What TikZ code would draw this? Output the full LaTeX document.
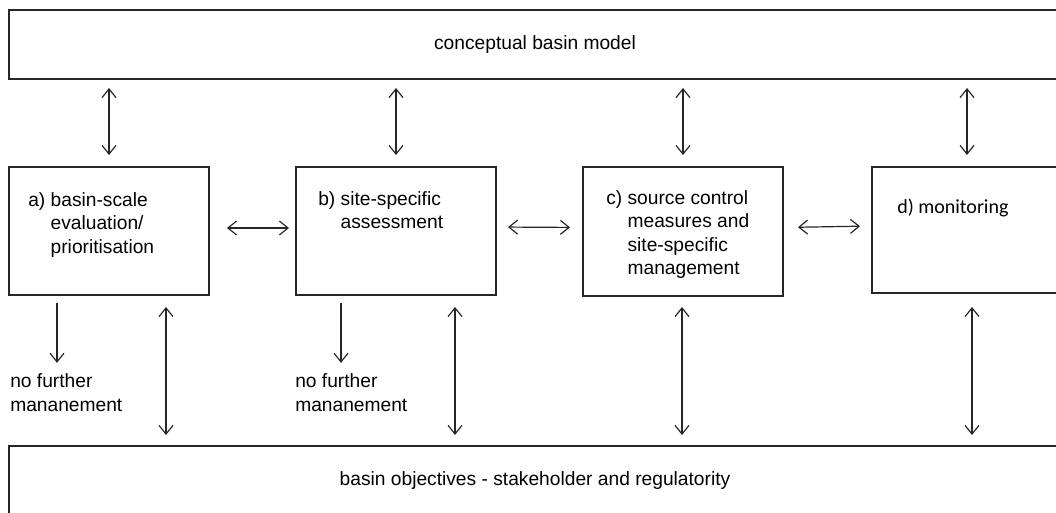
\documentclass[tikz,border=0pt]{standalone}
\usepackage{fontspec}
\setmainfont{Liberation Sans}
\newfontfamily\calibrifont{Carlito}
\usetikzlibrary{arrows.meta,positioning}

\begin{document}
\begin{tikzpicture}[x=0.75pt,y=-0.75pt,
		box/.style={draw=black!85,line width=1pt,inner sep=0pt,outer sep=0pt,anchor=north west,
			minimum width=150pt,minimum height=96pt},
		band/.style={draw=black!85,line width=1pt,inner sep=0pt,outer sep=0pt,anchor=north west,
			minimum width=789pt},
		txt/.style={inner sep=0pt,anchor=base west,align=left},
		tip/.tip={Straight Barb[length=6.5pt,width=10.5pt]},
		link/.style={draw=black!85,line width=0.9pt,tip-tip},
		drop/.style={draw=black!85,line width=0.9pt,-tip},
		font=\fontsize{14.4}{17.6}\selectfont]
	\useasboundingbox (0,0) rectangle (1056,513);
	\node[band,minimum height=51.75pt] (model) at (9,10) {conceptual basin model};
	\node[band,minimum height=52.5pt] (goals) at (9,446) {basin objectives - stakeholder and regulatority};
	\node[box] (boxa) at (9,167) {};
	\node[box] (boxb) at (296,167) {};
	\node[box,minimum height=96.75pt] (boxc) at (583,167) {};
	\node[box,minimum height=94.5pt] (boxd) at (872,167) {};
	\node[txt] (ta) at ([shift={(14.25pt,-64.5pt)}]boxa.north west) {a)~basin-scale\\\hphantom{a)~}evaluation/\\\hphantom{a)~}prioritisation};
	\node[txt] (tb) at ([shift={(16.5pt,-46.5pt)}]boxb.north west) {b)~site-specific\\\hphantom{b)~}assessment};
	\node[txt] (tc) at ([shift={(17.25pt,-80.6pt)}]boxc.north west) {c)~source control\\\hphantom{c)~}measures and\\\hphantom{c)~}site-specific\\\hphantom{c)~}management};
	\node[txt,font=\calibrifont\fontsize{15}{18}\selectfont] (td) at ([shift={(18.75pt,-35.25pt)}]boxd.north west) {d) monitoring};
	\node[txt,font=\fontsize{14.4}{18}\selectfont] (nfa) at (10,411) {no further\\mananement};
	\node[txt,font=\fontsize{14.4}{18}\selectfont] (nfb) at (295,411) {no further\\mananement};
	\foreach \b in {a,b,c}
		\draw[link,shorten <=6.75pt,shorten >=9pt] (model.south -| box\b.north) -- (box\b.north);
	\draw[link,shorten <=6.75pt,shorten >=9pt] (model.south -| 967,0) -- (967,167);
	\draw[link,shorten <=13.5pt,shorten >=5.25pt] ([yshift=2.25pt]boxa.east) -- ([yshift=2.25pt]boxb.west);
	\draw[link,shorten <=9pt,shorten >=9.75pt] ([yshift=3pt]boxb.east) -- ([yshift=3pt]boxc.west);
	\draw[link,shorten <=11.25pt,shorten >=9pt] ([yshift=3pt]boxc.east) -- ([yshift=3pt]boxd.west);
	\coordinate (pa) at ([xshift=42.75pt]boxa.south);
	\coordinate (pb) at ([xshift=44.25pt]boxb.south);
	\coordinate (pc) at ([xshift=-0.75pt]boxc.south);
	\coordinate (pd) at (boxd.south);
	\foreach \p in {pa,pb,pc,pd}
		\draw[link,shorten <=9pt,shorten >=8.25pt] (\p |- boxa.south) -- (\p |- goals.north);
	\coordinate (qa) at ([xshift=-39pt]boxa.south);
	\coordinate (qb) at ([xshift=-41.25pt]boxb.south);
	\draw[drop,shorten <=6pt,shorten >=7.5pt] (qa) -- (qa |- nfa.north);
	\draw[drop,shorten <=6pt,shorten >=7.5pt] (qb) -- (qb |- nfb.north);
\end{tikzpicture}
\end{document}
